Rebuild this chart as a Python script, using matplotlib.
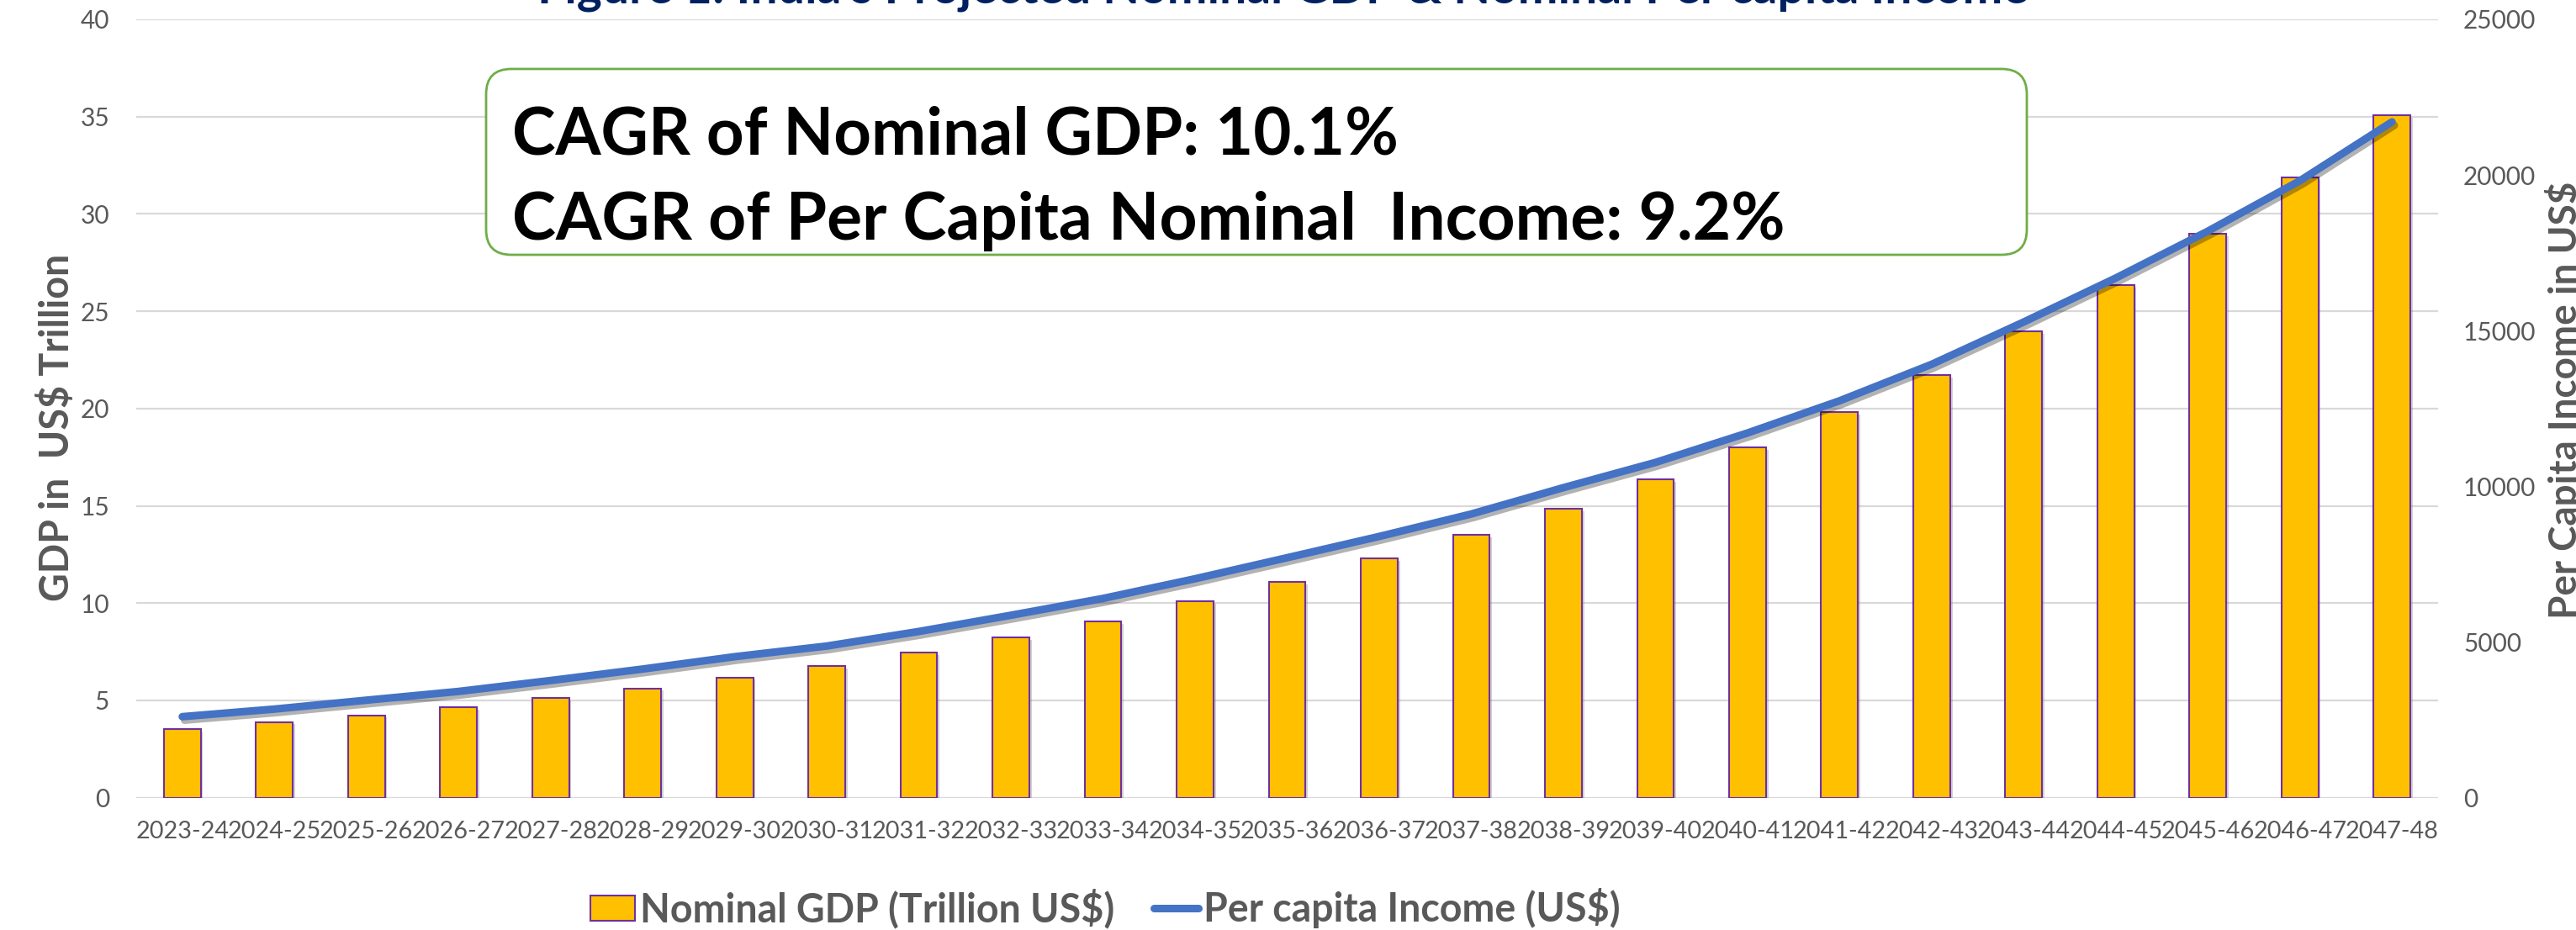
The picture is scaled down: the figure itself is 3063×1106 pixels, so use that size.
import matplotlib
matplotlib.use("Agg")
import matplotlib.pyplot as plt
import matplotlib.patheffects as pe
from matplotlib.patches import FancyBboxPatch, Patch
from matplotlib.lines import Line2D

plt.rcParams['font.family'] = ['Lato', 'DejaVu Sans']

years = ["2023-24", "2024-25", "2025-26", "2026-27", "2027-28", "2028-29", "2029-30",
         "2030-31", "2031-32", "2032-33", "2033-34", "2034-35", "2035-36", "2036-37",
         "2037-38", "2038-39", "2039-40", "2040-41", "2041-42", "2042-43", "2043-44",
         "2044-45", "2045-46", "2046-47", "2047-48"]
gdp_trillion = [3.54, 3.89, 4.24, 4.65, 5.13, 5.62, 6.18, 6.78, 7.47, 8.24, 9.06, 10.1,
                11.08, 12.31, 13.5, 14.83, 16.36, 18.0, 19.81, 21.73, 23.97, 26.35,
                28.97, 31.88, 35.06]
per_capita_usd = [2604, 2847, 3133, 3414, 3765, 4133, 4530, 4872, 5340, 5861, 6401, 7033,
                  7709, 8392, 9113, 9959, 10769, 11715, 12749, 13921, 15280, 16692,
                  18197, 19818, 21708]
left_ticks = [0, 5, 10, 15, 20, 25, 30, 35, 40]
right_ticks = [0, 5000, 10000, 15000, 20000, 25000]

TITLE = "Figure 1: India's Projected Nominal GDP & Nominal Per capita Income"
CAGR1 = "CAGR of Nominal GDP: 10.1%"
CAGR2 = "CAGR of Per Capita Nominal  Income: 9.2%"

W, H = 3063, 1106
fig = plt.figure(figsize=(W / 100, H / 100), dpi=100)
L, R, T, B = 162, 2899, 23, 948.7
ax = fig.add_axes([L / W, 1 - B / H, (R - L) / W, (B - T) / H])

GRAY = '#595959'
x = list(range(len(years)))
bars = ax.bar(x, gdp_trillion, width=0.4, color='#FFC000', edgecolor='#7030A0',
              linewidth=1.5, zorder=3)
for b in bars:
    b.set_path_effects([pe.SimplePatchShadow(offset=(2, -2), shadow_rgbFace='gray', alpha=0.35),
                        pe.Normal()])

ax.set_xlim(-0.5, len(years) - 0.5)
ax.set_ylim(0, 40)
ax.set_yticks(left_ticks)
ax.set_xticks(x)
ax.set_xticklabels(years)
ax.grid(axis='y', color='#D9D9D9', linewidth=1.6, zorder=0)
ax.set_axisbelow(True)
for s in ax.spines.values():
    s.set_visible(False)
ax.tick_params(axis='y', length=0, pad=23, labelsize=21.5, labelcolor=GRAY)
ax.tick_params(axis='x', length=0, pad=20, labelsize=20.8, labelcolor=GRAY)

ax2 = ax.twinx()
ax2.plot(x, per_capita_usd, color='#4472C4', linewidth=6.5, solid_capstyle='round',
         zorder=4,
         path_effects=[pe.SimpleLineShadow(offset=(2, -3), shadow_color='black', alpha=0.3),
                       pe.Normal()])
ax2.set_ylim(0, 25000)
ax2.set_yticks(right_ticks)
for s in ax2.spines.values():
    s.set_visible(False)
ax2.tick_params(axis='y', length=0, pad=21.5, labelsize=21.5, labelcolor=GRAY)

# axis titles
fig.text(68 / W, 1 - 508 / H, "GDP in  US$ Trillion", rotation=90, ha='center', va='center',
         fontsize=33.5, fontweight='bold', color=GRAY)
fig.text(3026 / W, 1 - 476 / H, "Per Capita Income in US$", rotation=90, ha='left', va='center',
         fontsize=33, fontweight='bold', color=GRAY)

# title (mostly clipped at top, as in the source image)
fig.text(1525 / W, 1 - 4 / H, TITLE, ha='center', va='baseline', fontsize=41,
         fontweight='bold', color='#002060')

# CAGR box
bx0, bx1, by0, by1 = 578, 2410, 82, 303
box = FancyBboxPatch((bx0 / 100, (H - by1) / 100), (bx1 - bx0) / 100, (by1 - by0) / 100,
                     boxstyle="round,pad=0,rounding_size=0.3",
                     transform=fig.dpi_scale_trans, facecolor='white', edgecolor='#70AD47',
                     linewidth=2, zorder=5)
fig.add_artist(box)
fig.text(609 / W, 1 - 183 / H, CAGR1, ha='left', va='baseline', fontsize=56,
         fontweight='bold', color='black', zorder=6)
fig.text(609 / W, 1 - 285 / H, CAGR2, ha='left', va='baseline', fontsize=56.5,
         fontweight='bold', color='black', zorder=6)

# legend
handles = [Patch(facecolor='#FFC000', edgecolor='#7030A0', linewidth=1.5),
           Line2D([0], [0], color='#4472C4', linewidth=6.5, solid_capstyle='round')]
labels = ["Nominal GDP (Trillion US$)", "Per capita Income (US$)"]
leg = fig.legend(handles, labels, loc='center', bbox_to_anchor=(1314 / W, 1 - 1080 / H),
                 ncol=2, frameon=False, handlelength=1.15, handleheight=0.62,
                 handletextpad=0.12, columnspacing=1.0,
                 prop={'size': 33.5, 'weight': 'bold'})
for t in leg.get_texts():
    t.set_color(GRAY)

fig.savefig("out.png", dpi=100, facecolor='white')
